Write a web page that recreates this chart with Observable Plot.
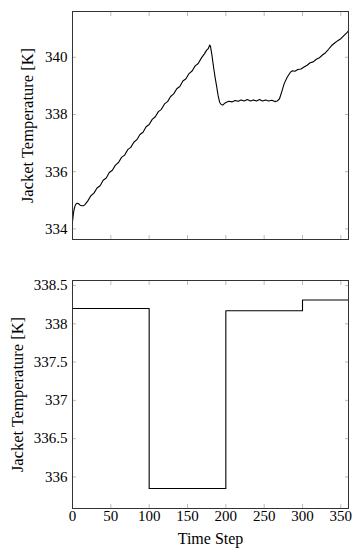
<!DOCTYPE html>
<html>
<head>
<meta charset="utf-8">
<script src="https://cdn.jsdelivr.net/npm/d3@7"></script>
<script src="https://cdn.jsdelivr.net/npm/@observablehq/plot@0.6"></script>
<style>
  html, body { margin: 0; padding: 0; background: white; }
  #chart svg { display: block; }
  #chart svg, #chart svg text { font-family: "Liberation Serif", "DejaVu Serif", serif !important; }
  #chart g[aria-label="y-axis label"] text { font-size: 16.5px; }
  #chart g[aria-label="x-axis label"] text { font-size: 16px; }
</style>
</head>
<body>
<div id="chart"></div>
<script>
// Top panel: jacket temperature trajectory
const topX = [0,1,2,3,4,6,8,10,12,14,16,18,20,24,28,32,36,40,44,48,52,56,60,64,68,72,76,80,84,88,92,96,100,104,108,112,116,120,124,128,132,136,140,144,148,152,156,160,164,168,172,175,177,179,180,182,184,186,188,190,192,194,196,198,200,204,208,212,216,220,224,228,232,236,240,244,248,252,256,260,264,267,270,273,276,280,284,287,290,294,298,302,306,310,314,318,322,326,330,334,338,342,346,350,354,358,360];
const topY = [334.25,334.5,334.67,334.78,334.85,334.9,334.88,334.83,334.81,334.81,334.84,334.91,334.98,335.16,335.25,335.43,335.51,335.70,335.78,335.97,336.05,336.23,336.32,336.50,336.58,336.77,336.85,337.03,337.12,337.30,337.38,337.57,337.65,337.83,337.92,338.10,338.18,338.37,338.45,338.63,338.72,338.90,338.98,339.17,339.25,339.43,339.52,339.70,339.78,339.97,340.12,340.25,340.30,340.43,340.38,340.05,339.65,339.30,338.98,338.65,338.42,338.35,338.33,338.38,338.42,338.46,338.44,338.49,338.46,338.51,338.47,338.52,338.47,338.51,338.47,338.52,338.47,338.51,338.47,338.50,338.45,338.47,338.55,338.80,339.07,339.30,339.47,339.53,339.51,339.57,339.59,339.66,339.72,339.81,339.84,339.93,339.98,340.08,340.16,340.28,340.41,340.50,340.58,340.65,340.76,340.86,340.92];
const topYTicks = [334, 336, 338, 340];

// Bottom panel: jacket temperature setpoint (piecewise constant)
const botX = [0, 100, 200, 300, 360];
const botY = [338.2, 335.85, 338.17, 338.31, 338.31];
const botYTicks = [336, 336.5, 337, 337.5, 338, 338.5];

const xTicks = [0, 50, 100, 150, 200, 250, 300, 350];
const yLabel = "Jacket Temperature [K]";
const xLabel = "Time Step";

const topData = topX.map((x, i) => ({x, y: topY[i]}));
const botData = botX.map((x, i) => ({x, y: botY[i]}));

const font = "Liberation Serif";
const tickColor = "#bbb";
const frameColor = "#333";

function innerAxes(yTicks) {
  return [
    Plot.axisX({anchor: "top", ticks: xTicks, tickSize: -4, tickFormat: () => "", label: null, stroke: tickColor}),
    Plot.axisY({anchor: "right", ticks: yTicks, tickSize: -4, tickFormat: () => "", label: null, stroke: tickColor})
  ];
}

const topPlot = Plot.plot({
  width: 359, height: 250,
  marginLeft: 72, marginRight: 11, marginTop: 11, marginBottom: 11,
  x: {domain: [0, 360]},
  y: {domain: [333.63, 341.6]},
  style: {fontFamily: font, fontSize: "15px", background: "white", color: "black"},
  marks: [
    ...innerAxes(topYTicks),
    Plot.axisX({anchor: "bottom", ticks: xTicks, tickSize: -4, tickFormat: () => "", label: null, stroke: tickColor}),
    Plot.axisY({anchor: "left", ticks: topYTicks, tickSize: -4, tickPadding: 9, tickFormat: d => String(d),
      stroke: tickColor, fill: "black", label: yLabel, labelAnchor: "center", labelArrow: "none", labelOffset: 51}),
    Plot.line(topData, {x: "x", y: "y", stroke: "black", strokeWidth: 1.1}),
    Plot.frame({stroke: frameColor, strokeWidth: 1})
  ]
});

const botPlot = Plot.plot({
  width: 359, height: 300,
  marginLeft: 72, marginRight: 11, marginTop: 30, marginBottom: 42,
  x: {domain: [0, 360]},
  y: {domain: [335.588, 338.565]},
  style: {fontFamily: font, fontSize: "15px", background: "white", color: "black"},
  marks: [
    ...innerAxes(botYTicks),
    Plot.axisX({anchor: "bottom", ticks: xTicks, tickSize: -4, tickPadding: 6, tickFormat: d => String(d),
      stroke: tickColor, fill: "black", label: xLabel, labelAnchor: "center", labelArrow: "none", labelOffset: 35}),
    Plot.axisY({anchor: "left", ticks: botYTicks, tickSize: -4, tickPadding: 9, tickFormat: d => String(d),
      stroke: tickColor, fill: "black", label: yLabel, labelAnchor: "center", labelArrow: "none", labelOffset: 61}),
    Plot.line(botData, {x: "x", y: "y", curve: "step-after", stroke: "black", strokeWidth: 1.1}),
    Plot.frame({stroke: frameColor, strokeWidth: 1})
  ]
});

document.getElementById("chart").append(topPlot, botPlot);
</script>
</body>
</html>
